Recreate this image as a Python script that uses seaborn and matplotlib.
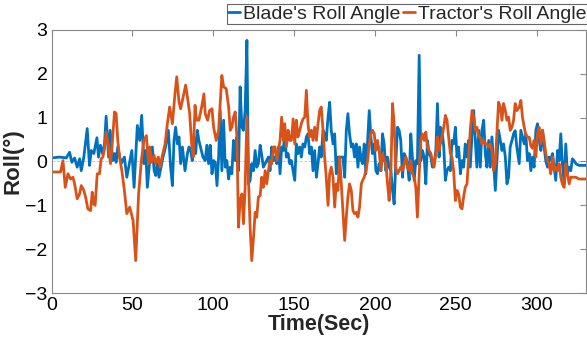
import pandas as pd
import matplotlib
matplotlib.use("Agg")
import matplotlib.pyplot as plt
import seaborn as sns

# Blade's roll angle (deg) vs time (s)
blade_time = [0, 5, 9, 11.1, 12.5, 14.2, 15.8, 17.3, 18.3, 19.9, 22, 23.4, 24.5, 26.1, 28, 29, 30.2, 31.7,
              32.7, 33.7, 35.2, 36.2, 37.8, 38.9, 39.9, 40.9, 43, 45, 46.5,
              49.6, 51.0, 53.0, 54.5, 55.7, 57.1, 58.2, 59.2, 60.7, 62.3, 63.4, 64.4, 65.4, 66.4, 68.1, 68.9,
              70.5, 72.2, 73.6, 74.7, 75.7, 76.7, 77.8, 78.8, 79.8, 80.9, 82.5, 84.0, 85.0, 86.0, 87.0, 88.0,
              89.1, 90.1, 91.1, 92.1, 93.6,
              95.0, 96.0, 97.1, 98.1, 99.2, 100.2, 101.2, 102.3, 103.3, 104.3, 105.3, 106.4, 107.4, 108.4,
              109.5, 110.5, 111.5, 112.5, 113.6, 114.6, 115.6, 116.6, 117.7, 118.7, 119.7, 120.8, 121.8, 122.8,
              123.8, 124.9, 125.9, 126.9, 127.9, 129.0, 130.0, 131.0, 132.1, 133.1, 134.1, 135.1, 136.2, 137.2,
              138.2, 139.3, 140.3, 141.3, 142.3, 143.4,
              144.2, 145.2, 146.3, 147.3, 148.3, 149.4, 150.4, 151.4, 152.4, 153.5, 154.5, 155.5, 156.6, 157.6,
              158.6, 159.6, 160.7, 161.7, 162.7, 163.8, 164.8, 165.8, 166.8, 167.9, 168.9, 169.9, 171.0, 172.0,
              173.0, 174.1, 175.1, 176.1, 177.1, 178.2, 179.2, 180.2, 181.3, 182.3, 183.3, 184.3, 185.4, 186.4,
              187.4, 188.5, 189.5, 190.5, 191.6,
              192.4, 193.4, 194.4, 195.5, 196.5, 197.5, 198.5, 199.6, 200.6, 201.6, 202.6, 203.7, 204.7, 205.7,
              206.8, 207.8, 208.8, 209.9, 210.9, 211.9, 212.9, 214.0, 215.0, 216.0, 217.1, 218.1, 219.1, 220.1,
              221.2, 222.2, 223.2, 224.3, 225.3, 226.3, 227.4, 228.4, 229.4, 230.5, 231.5, 232.5, 233.5, 234.6,
              235.6, 236.6, 237.7, 238.7, 239.7,
              240.5, 241.5, 242.6, 243.6, 244.6, 245.6, 246.7, 247.7, 248.7, 249.8, 250.8, 251.8, 252.9, 253.9,
              254.9, 255.9, 257.0, 258.0, 259.0, 260.1, 261.1, 262.1, 263.1, 264.2, 265.2, 266.2, 267.3, 268.3,
              269.3, 270.4, 271.4, 272.4, 273.5, 274.5, 275.5, 276.5, 277.6, 278.6, 279.6, 280.7, 281.7, 282.7,
              283.7, 284.8, 285.8, 286.8, 287.8,
              289.3, 290.3, 291.3, 292.4, 293.4, 294.4, 295.5, 296.5, 297.5, 298.5, 299.6, 300.6, 301.6, 302.7,
              303.7, 304.7, 305.7, 306.8, 307.8, 308.8, 309.9, 310.9, 311.9, 313.0, 314.0, 315.0, 316.0, 317.1,
              318.1, 319.1, 320.2, 321.2, 322.2, 323.2, 324.3, 326.3, 330.4]
blade_roll = [0.08, 0.1, 0.08, 0.21, -0.02, 0.08, -0.13, 0.06, -0.21, 0.1, 0.75, -0.09, 0.25, 0.18, 0.54, 0.1,
              0.37, 0.16, 0.4, 1.03, 0.1, 0.71, 0.02, 0.18, -0.02, 0.33, -0.05, 0.1, -0.36,
              0.25, -0.59, 0.82, 0.48, 1.05, -0.05, 0.25, -0.59, 0.02, 0.33, -0.21, -0.32, -0.02, -0.36, -0.05,
              0.1, 0.33, 0.71, -0.13, -0.55, 0.48, 0.78, 0.4, 0.56, -0.05, 0.33, -0.21, 0.18, 0.33, 0.25, 0.02,
              0.56, 0.18, 0.71, 0.48, 0.33, 0.1,
              0.02, 0.37, -0.05, 0.37, -0.28, 0.02, -0.02, -0.55, 0.1, 1.16, -0.21, 0.94, -0.13, 0.02, -0.4,
              -0.13, -0.28, 0.48, 0.02, 0.56, -0.21, 1.7, 0.78, 0.71, 1.16, 2.76, -0.51, -0.43, -0.05, -0.21,
              0.25, -0.13, -0.05, 0.37, 0.14, -0.13, -0.05, 0.02, 0.1, -0.21, 0.33, 0.02, 0.1, -0.05, 0.33,
              -0.28, 0.33, 0.25,
              0.71, 0.1, 0.18, -0.05, 0.02, -0.21, -0.43, 0.4, 0.18, 0.33, 0.1, 0.4, 0.33, 0.56, 0.63, 0.18,
              0.33, -0.21, 0.25, -0.36, -0.05, 0.33, 0.1, 0.71, 0.63, 0.48, 1.01, 1.35, 0.71, 0.4, 0.63, -0.28,
              0.1, 0.1, 0.1, 0.1, -0.36, 0.71, 1.09, 0.63, 0.33, 0.4, 0.1, 0.4, -0.13, 0.33, 0.02,
              -0.05, 0.4, -0.28, 0.48, 1.16, 0.56, 0.18, 0.4, -0.21, -0.28, -0.05, -0.21, 0.63, 0.4, -0.21, 0.1,
              -0.13, -0.21, -0.66, -0.97, -0.05, 0.78, 0.71, 0.48, -0.36, 0.18, 0.1, -0.05, -0.43, 0.63, 0.1,
              -0.43, 0.02, -0.05, 2.42, 0.02, 0.25, 0.1, -0.51, 0.48, 0.18, 0.1, -0.13, -0.05, 0.25, 1.32, 0.1,
              0.78, 0.71, 0.33, -0.43, -0.21, -0.13, -0.21, 0.48, 0.4, 0.78, 0.1, 0.33, -0.28, 0.02, -0.13, 0.4,
              0.1, 0.48, -0.13, 0.63, 1.16, 0.48, -0.13, 0.71, -0.13, 0.71, 0.94, 0.18, -0.13, 0.48, -0.13, 0.56,
              -0.05, -0.66, 0.02, 0.71, 0.48, 0.25, 0.4, 0.1, -0.51, -0.36, 0.33, 0.48, 0.63, 0.7, 0.33,
              -0.05, 0.71, 0.56, 0.4, 0.63, 0.02, 0.18, -0.21, 0.1, -0.13, 0.71, 0.86, 0.48, 0.25, 0.71, 0.33,
              0.02, -0.13, 0.1, 0.02, 0.18, -0.13, -0.43, 0.25, 0.02, 0.63, -0.05, -0.51, 0.4, -0.28, -0.13,
              -0.21, 0.06, 0.02, -0.05, -0.09, -0.09]

# Tractor's roll angle (deg) vs time (s)
tractor_time = [0, 5.5, 7.0, 8.4, 10.1, 11.7, 13.2, 14.2, 15.8, 17.3, 18.3, 19.9, 21.0, 22.4, 24.1, 25.1, 26.1,
                26.9, 28.2, 29.6, 30.6, 31.7, 32.7, 33.7, 35.2, 36.4, 37.4, 38.9, 39.9, 40.9, 42.0, 43.4, 45.0,
                46.5, 48.3, 50.4, 52.0, 53.8, 55.5, 57.1, 58.6, 59.9, 60.7, 61.9, 63.4, 64.4, 66.0, 67.1, 68.5,
                70.2, 71.6, 73.0, 74.7, 76.3, 77.4, 78.8, 79.8, 80.9, 82.9, 84.0, 85.4, 86.6, 87.6, 88.7, 89.7,
                91.1, 92.8, 94.2,
                95.0, 96.5, 97.7, 99.2, 100.2, 101.8, 103.3, 104.3, 105.3, 106.4, 108.0, 109.5, 110.5, 111.5,
                112.5, 113.6, 114.6, 115.6, 116.6, 117.7, 118.7, 119.7, 120.8, 121.8, 122.8, 123.8, 124.9, 125.9,
                126.9, 127.9, 129.0, 130.0, 131.0, 132.1, 133.1, 134.1, 135.1, 136.2, 137.2, 138.2, 139.3, 140.3,
                141.3, 142.3, 143.4,
                144.2, 145.2, 146.3, 147.3, 148.3, 149.4, 150.4, 151.4, 152.4, 153.5, 154.5, 155.5, 156.6, 157.6,
                158.6, 159.6, 160.7, 161.7, 162.7, 163.8, 164.8, 165.8, 166.8, 167.9, 168.9, 169.9, 171.0, 172.0,
                173.0, 174.1, 175.1, 176.1, 177.1, 178.2, 179.2, 180.2, 181.3, 182.3, 183.3, 184.3, 185.4, 186.4,
                187.4, 188.5, 189.5, 190.5, 191.6,
                192.4, 193.4, 194.4, 195.5, 196.5, 197.5, 198.5, 199.6, 200.6, 201.6, 202.6, 203.7, 204.7, 205.7,
                206.8, 207.8, 208.8, 209.9, 210.9, 211.9, 212.9, 214.0, 215.0, 216.0, 217.1, 218.1, 219.1, 220.1,
                221.2, 222.2, 223.2, 224.3, 225.3, 226.3, 227.4, 228.4, 229.4, 230.5, 231.5, 232.5, 233.5, 234.6,
                235.6, 236.6, 237.7, 238.7, 239.7,
                240.5, 241.5, 242.6, 243.6, 244.6, 245.6, 246.7, 247.7, 248.7, 249.8, 250.8, 251.8, 252.9, 253.9,
                254.9, 255.9, 257.0, 258.0, 259.0, 260.1, 261.1, 262.1, 263.1, 264.2, 265.2, 266.2, 267.3, 268.3,
                269.3, 270.4, 271.4, 272.4, 273.5, 274.5, 275.5, 276.5, 277.6, 278.6, 279.6, 280.7, 281.7, 282.7,
                283.7, 284.8, 285.8, 286.8, 287.8,
                289.3, 290.3, 291.3, 292.4, 293.4, 294.4, 295.5, 296.5, 297.5, 298.5, 299.6, 300.6, 301.6, 302.7,
                303.7, 304.7, 305.7, 306.8, 307.8, 308.8, 309.9, 310.9, 311.9, 313.0, 314.0, 315.0, 316.0, 317.1,
                318.1, 319.1, 320.2, 321.2, 322.2, 323.2, 324.3, 326.3, 330.4]
tractor_roll = [-0.24, -0.24, 0.02, -0.59, -0.28, -0.4, -0.36, -0.51, -0.85, -0.74, -0.55, -0.66, -0.81, -1.08,
                -1.12, -0.7, -0.97, -1.0, -0.28, -0.28, 0.06, 0.1, 0.29, 0.67, 0.33, -0.05, 0.37, 1.13, 1.09, 0.48,
                0.1, -0.2, -0.66, -1.19, -1.04, -1.35, -2.26, -0.74, 0.02, 0.48, 0.59, -0.05, 0.33, -0.02, 0.14,
                -0.05, 0.1, -0.13, 0.14, 0.4, 0.86, 1.24, 0.86, 1.54, 1.93, 1.35, 1.2, 1.39, 1.74, 1.47, 1.09, 0.4,
                0.1, 1.28, 0.94, 0.94, 1.24, 1.54,
                1.09, 0.94, 1.16, 1.2, 0.78, 0.48, 0.71, 1.35, 1.96, 1.7, 1.66, 1.24, 0.71, 0.78, 1.01, 1.13, 0.56,
                -1.5, -0.89, -0.74, -1.42, -0.59, 1.01, -0.43, -1.5, -2.26, -1.73, -1.16, -1.27, -0.81, -0.78,
                -0.36, -0.59, -0.21, -0.51, -0.21, 0.02, -0.05, 0.33, 0.33, 0.02, 0.25, 0.48, 1.01, 0.48,
                0.86, 0.33, 0.71, 0.48, 0.48, 0.97, 0.4, 0.94, 0.56, 0.71, 0.86, 0.97, 1.01, 1.62, 0.86, 0.56,
                0.71, 0.48, 0.78, 0.48, 0.86, 1.16, 1.24, 0.71, 0.1, -0.36, -1.0, -0.28, -0.13, -0.36, -1.04,
                -0.51, -0.66, 0.1, -0.51, -1.16, -1.8, -1.27, -0.81, -0.51, -0.66, -1.12, -1.19, -1.16, -1.27,
                -1.04, -0.51,
                -0.43, -0.36, -0.21, 0.02, 0.4, 0.63, 0.71, 0.63, 0.25, 0.48, 0.25, -0.21, 0.18, 0.02, -0.05,
                -0.51, -0.89, -0.21, 1.32, 0.86, -0.13, -0.28, -0.21, -0.13, -0.21, -0.05, 0.1, -0.13, -0.21,
                0.02, -0.28, -0.36, -0.59, -1.27, -0.28, 0.48, 0.63, 0.48, 0.67, 0.33, 0.25, 0.18, 0.02, -0.13,
                0.18, 0.56, 0.25,
                0.4, 0.56, 0.78, 1.05, 0.94, 0.56, 0.18, 0.1, -0.21, -0.89, -0.66, -0.74, -1.04, -1.08, -0.81,
                -0.59, -0.51, 0.1, 0.71, 1.16, 1.01, 0.71, 0.78, 0.56, 0.56, 0.4, 0.48, 0.4, 0.4, 0.33, 0.4, 0.25,
                -0.21, -0.05, 0.63, 1.35, 1.24, 0.94, 1.32, 1.16, 0.94, 1.01, 0.71, 0.78, 0.94, 1.32, 1.16,
                1.24, 1.39, 1.01, 0.78, 0.6, 0.56, 0.55, 0.35, 0.3, 0.48, 0.1, 0.63, 0.78, 0.4, 0.71, 0.48, 0.18,
                0.02, -0.05, -0.28, 0.1, -0.21, -0.13, -0.21, -0.05, -0.36, -0.51, -0.59, -0.05, -0.28, -0.51,
                -0.36, -0.36, -0.36, -0.36, -0.4, -0.4]

series_names = ["Blade's Roll Angle", "Tractor's Roll Angle"]
line_colors = ["#0072BD", "#D95319"]
x_ticks = [0, 50, 100, 150, 200, 250, 300]
y_ticks = [-3, -2, -1, 0, 1, 2, 3]

df = pd.concat([
    pd.DataFrame({"Time": blade_time, "Roll": blade_roll, "Series": series_names[0]}),
    pd.DataFrame({"Time": tractor_time, "Roll": tractor_roll, "Series": series_names[1]}),
], ignore_index=True)

sns.set_theme(style="white")
plt.rcParams["font.family"] = ["Liberation Sans", "DejaVu Sans"]

fig, ax = plt.subplots(figsize=(5.87, 3.51), dpi=100)
fig.subplots_adjust(left=0.088, right=0.998, top=0.915, bottom=0.165)

sns.lineplot(data=df, x="Time", y="Roll", hue="Series", palette=line_colors,
             linewidth=2.0, estimator=None, ax=ax)
ax.axhline(0, color="#999999", linestyle="--", linewidth=0.6, alpha=0.6, zorder=0)

ax.set_xlim(0, 330.5)
ax.set_ylim(-3, 3)
ax.set_xticks(x_ticks)
ax.set_yticks(y_ticks)
ax.tick_params(direction="in", length=4, width=0.8, top=True, right=True,
               labelsize=14, colors="#888888", labelcolor="black", pad=3)
for sp in ax.spines.values():
    sp.set_color("#888888")
    sp.set_linewidth(0.8)

ax.set_xlabel("Time(Sec)", fontsize=15.5, fontweight="bold", labelpad=0)
ax.set_ylabel("Roll(°)", fontsize=16, fontweight="bold", labelpad=1)

handles, labels = ax.get_legend_handles_labels()
leg = ax.legend(handles, labels, ncol=2, loc="upper right",
                bbox_to_anchor=(1.0, 1 - 4 / 351), bbox_transform=fig.transFigure,
                frameon=True, fancybox=False, edgecolor="#666666", framealpha=1,
                fontsize=14, handlelength=0.6, handletextpad=0.15, columnspacing=0.15,
                borderpad=0.05, borderaxespad=0)
leg.get_frame().set_linewidth(0.8)

fig.savefig("out.png", dpi=100)
